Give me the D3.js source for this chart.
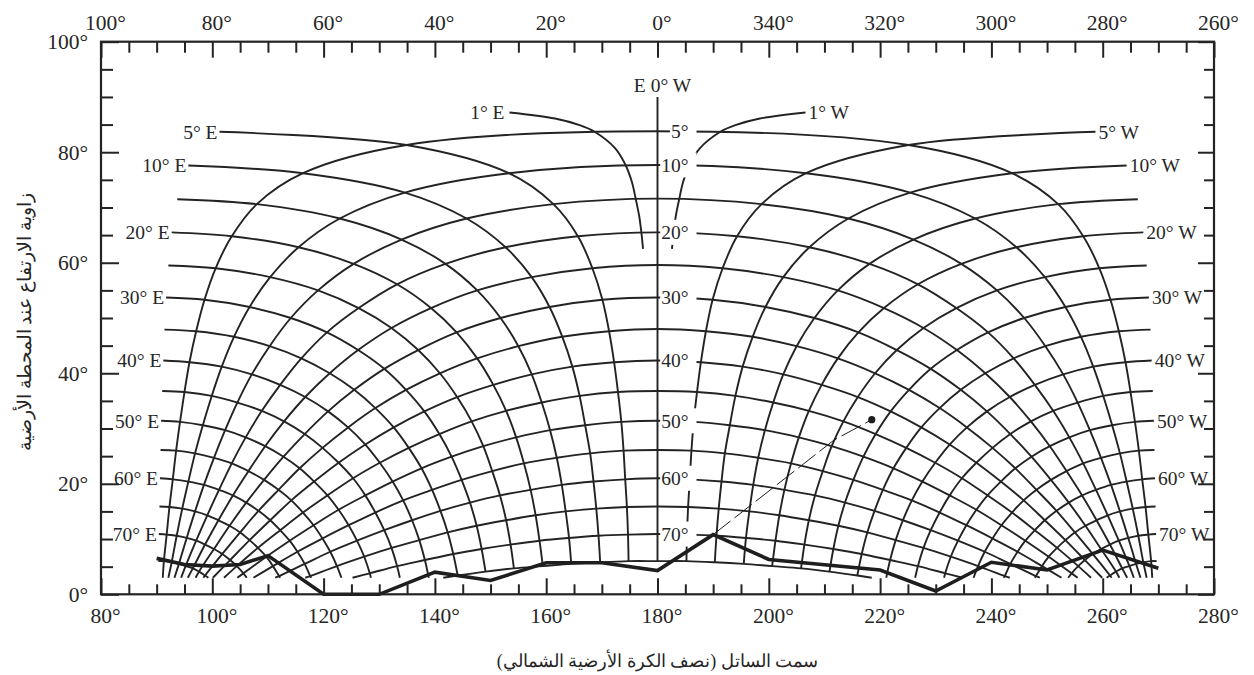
<!DOCTYPE html>
<html><head><meta charset="utf-8">
<script src="https://cdn.jsdelivr.net/npm/d3@7"></script>
<style>
html,body{margin:0;padding:0;background:#fff;}
svg text{font-family:"Liberation Serif","Times New Roman",serif;fill:#262626;}
</style></head><body>
<svg id="chart" width="1254" height="675"></svg>
<script>
// Earth-station latitudes (rows) and satellite longitude differences (columns) of the look-angle grid.
const stationLatitudes=[1,5,10,15,20,25,30,35,40,45,50,55,60,65,70,75];
const longitudeDiffs=[0,5,10,15,20,25,30,35,40,45,50,55,60,65,70,75];
const labeledLatitudes=[5,10,20,30,40,50,60,70];
const labeledLonDiffs=[5,10,20,30,40,50,60,70];

// Each row: [azimuth offset from south (deg), elevation (deg)] per longitude difference; null = below the 3° floor.
const lat01=[[0,88.8],[78.7,83.7],[84.3,77.6],[86.3,71.5],[87.3,65.5],[87.9,59.5],[88.3,53.7],[88.6,47.9],[88.8,42.3],[89.0,36.8],[89.2,31.4],[89.3,26.1],[89.4,21.0],[89.5,15.9],[89.6,10.9],[89.7,6.0]];
const lat05=[[0,83.8],[45.1,81.3],[63.7,76.2],[72.0,70.6],[76.5,64.8],[79.4,59.0],[81.4,53.3],[82.9,47.6],[84.1,42.0],[85.0,36.6],[85.8,31.2],[86.5,26.0],[87.1,20.8],[87.7,15.8],[88.2,10.8],[88.7,6.0]];
const lat10=[[0,77.7],[26.7,76.2],[45.4,72.7],[57.1,68.0],[64.5,62.8],[69.6,57.4],[73.3,52.0],[76.1,46.6],[78.3,41.2],[80.1,35.9],[81.7,30.6],[83.1,25.5],[84.3,20.4],[85.4,15.5],[86.4,10.6],[87.3,5.8]];
const lat15=[[0,71.6],[18.7,70.6],[34.3,68.0],[46.0,64.2],[54.6,59.8],[61.0,55.0],[65.9,50.0],[69.7,44.9],[72.9,39.8],[75.5,34.7],[77.7,29.7],[79.7,24.7],[81.5,19.8],[83.1,15.0],[84.6,10.2],[86.0,5.5]];
const lat20=[[0,65.5],[14.3,64.8],[27.3,62.8],[38.1,59.8],[46.8,56.1],[53.7,51.8],[59.4,47.4],[64.0,42.7],[67.8,37.9],[71.1,33.2],[74.0,28.4],[76.5,23.7],[78.8,18.9],[80.9,14.3],[82.9,9.7],[84.8,5.1]];
const lat25=[[0,59.6],[11.7,59.0],[22.6,57.4],[32.4,55.0],[40.7,51.8],[47.8,48.2],[53.8,44.2],[58.9,40.0],[63.3,35.7],[67.1,31.3],[70.5,26.8],[73.5,22.3],[76.3,17.9],[78.9,13.4],[81.3,9.0],[83.5,4.7]];
const lat30=[[0,53.7],[9.9,53.3],[19.4,52.0],[28.2,50.0],[36.1,47.4],[43.0,44.2],[49.1,40.8],[54.5,37.0],[59.2,33.1],[63.4,29.0],[67.2,24.9],[70.7,20.7],[73.9,16.6],[76.9,12.4],[79.7,8.2],[82.4,4.1]];
const lat35=[[0,48.0],[8.7,47.6],[17.1,46.6],[25.0,44.9],[32.4,42.7],[39.1,40.0],[45.2,37.0],[50.7,33.7],[55.6,30.2],[60.2,26.5],[64.3,22.8],[68.1,18.9],[71.7,15.1],[75.0,11.2],[78.2,7.3],[81.3,3.4]];
const lat40=[[0,42.3],[7.8,42.0],[15.3,41.2],[22.6,39.8],[29.5,37.9],[36.0,35.7],[41.9,33.1],[47.4,30.2],[52.5,27.1],[57.3,23.8],[61.7,20.4],[65.8,17.0],[69.6,13.4],[73.3,9.8],[76.8,6.2],null];
const lat45=[[0,36.8],[7.1,36.6],[14.0,35.9],[20.8,34.7],[27.2,33.2],[33.4,31.3],[39.2,29.0],[44.7,26.5],[49.9,23.8],[54.7,21.0],[59.3,17.9],[63.7,14.8],[67.8,11.6],[71.8,8.4],[75.6,5.1],null];
const lat50=[[0,31.4],[6.5,31.2],[13.0,30.6],[19.3,29.7],[25.4,28.4],[31.3,26.8],[37.0,24.9],[42.4,22.8],[47.6,20.4],[52.5,17.9],[57.3,15.3],[61.8,12.5],[66.1,9.7],[70.3,6.8],[74.4,3.8],null];
const lat55=[[0,26.1],[6.1,26.0],[12.1,25.5],[18.1,24.7],[24.0,23.7],[29.7,22.3],[35.2,20.7],[40.5,18.9],[45.7,17.0],[50.7,14.8],[55.5,12.5],[60.2,10.1],[64.7,7.7],[69.1,5.1],null,null];
const lat60=[[0,21.0],[5.8,20.8],[11.5,20.4],[17.2,19.8],[22.8,18.9],[28.3,17.9],[33.7,16.6],[39.0,15.1],[44.1,13.4],[49.1,11.6],[54.0,9.7],[58.8,7.7],[63.4,5.5],[68.0,3.3],null,null];
const lat65=[[0,15.9],[5.5,15.8],[11.0,15.5],[16.5,15.0],[21.9,14.3],[27.2,13.4],[32.5,12.4],[37.7,11.2],[42.8,9.8],[47.8,8.4],[52.7,6.8],[57.6,5.1],[62.4,3.3],null,null,null];
const lat70=[[0,10.9],[5.3,10.8],[10.6,10.6],[15.9,10.2],[21.2,9.7],[26.4,9.0],[31.6,8.2],[36.7,7.3],[41.8,6.2],[46.8,5.1],[51.7,3.8],null,null,null,null,null];
const lat75=[[0,6.0],[5.2,6.0],[10.3,5.8],[15.5,5.5],[20.6,5.1],[25.8,4.7],[30.9,4.1],[35.9,3.4],null,null,null,null,null,null,null,null];

// Where each latitude arc (5°..75°) and each longitude-difference curve (5°..75°) meets the 3° floor.
const latitudeArcEnds=[[88.9,3],[87.9,3],[86.8,3],[85.6,3],[84.4,3],[83.0,3],[81.6,3],[79.9,3],[77.9,3],[75.5,3],[72.6,3],[68.7,3],[63.3,3],[54.8,3],[38.5,3]];
const lonCurveEnds=[null,null,null,null,null,null,null,[41.1,3],[46.3,3],[51.5,3],[56.8,3],[62.2,3],[67.8,3],[73.8,3],[80.7,3]];
// 1° longitude difference, latitudes 2°..22.5°
const oneDegreeCurve=[[26.6,87.2],[18.4,86.1],[14.0,84.9],[11.3,83.7],[7.6,80.7],[5.7,77.6],[4.6,74.6],[3.9,71.5],[3.3,68.5],[2.9,65.5],[2.6,62.5]];
const zenithElevation=90;

// Local horizon profile and the marked satellite.
const horizonAz=[90,95,100,105,110,120,130,140,150,160,170,180,190,200,220,230,240,250,260,270];
const horizonEl=[6.5,5.4,5.1,5.4,7.0,0,0,4.0,2.5,5.7,5.7,4.3,10.8,6.3,4.4,0.6,5.8,4.4,8.0,4.7];
const pointerAz=[190,211.7,218.5];
const pointerEl=[10.8,27.9,31.6];

const bottomTicks=d3.range(80,281,5);
const topTicks=d3.range(-100,101,5);
const elevTicks=d3.range(0,101,5);

const gridRows=[lat01,lat05,lat10,lat15,lat20,lat25,lat30,lat35,lat40,lat45,lat50,lat55,lat60,lat65,lat70,lat75];

const svg=d3.select("#chart");
const x=d3.scaleLinear().domain([80,280]).range([101,1214]);
const xTop=d3.scaleLinear().domain([100,-100]).range([101,1214]);
const y=d3.scaleLinear().domain([0,100]).range([594.3,41.7]);
const ink="#232323";

const smooth=d3.line().x(d=>x(d[0])).y(d=>y(d[1])).curve(d3.curveCatmullRom.alpha(0.5));
const straight=d3.line().x(d=>x(d[0])).y(d=>y(d[1]));
const east=pts=>pts.map(p=>[180-p[0],p[1]]);
const west=pts=>pts.map(p=>[180+p[0],p[1]]);

const grid=svg.append("g").attr("fill","none").attr("stroke",ink).attr("stroke-width",1.9);

// latitude arcs: continuous from the east floor through due south to the west floor
stationLatitudes.forEach((lat,i)=>{
  if(i===0) return;
  const pts=gridRows[i].filter(Boolean).concat([latitudeArcEnds[i-1]]);
  const arc=east(pts).reverse().concat(west(pts).slice(1));
  grid.append("path").attr("d",smooth(arc));
});
// longitude-difference curves, east and west
longitudeDiffs.forEach((dl,j)=>{
  if(j===0) return;
  let pts=gridRows.map(r=>r[j]).filter(Boolean);
  if(lonCurveEnds[j-1]) pts=pts.concat([lonCurveEnds[j-1]]);
  grid.append("path").attr("d",smooth(east(pts)));
  grid.append("path").attr("d",smooth(west(pts)));
});
grid.append("path").attr("d",smooth(east(oneDegreeCurve)));
grid.append("path").attr("d",smooth(west(oneDegreeCurve)));
// due-south line (0° longitude difference)
const southLine=[[0,zenithElevation]].concat(gridRows.map(r=>r[0]));
grid.append("path").attr("d",straight(southLine.map(p=>[180,p[1]])));

// curve labels
const lbl=svg.append("g").attr("font-size",19.5);
labeledLonDiffs.forEach(dl=>{
  const p=lat01[longitudeDiffs.indexOf(dl)];
  lbl.append("text").attr("x",x(180-p[0])-2).attr("y",y(p[1])).attr("dy","0.35em").attr("text-anchor","end").text(dl+"° E");
  lbl.append("text").attr("x",x(180+p[0])+3).attr("y",y(p[1])).attr("dy","0.35em").attr("text-anchor","start").text(dl+"° W");
});
{const p=oneDegreeCurve[0];
 lbl.append("text").attr("x",x(180-p[0])-5).attr("y",y(p[1])).attr("dy","0.35em").attr("text-anchor","end").text("1° E");
 lbl.append("text").attr("x",x(180+p[0])+3).attr("y",y(p[1])).attr("dy","0.35em").attr("text-anchor","start").text("1° W");}
labeledLatitudes.forEach(lat=>{
  const el=gridRows[stationLatitudes.indexOf(lat)][0][1];
  const t=lbl.append("text").attr("x",x(180)+31).attr("y",y(el)).attr("dy","0.35em").attr("text-anchor","end").text(lat+"°");
  const bb=t.node().getBBox();
  lbl.insert("rect","text").attr("x",bb.x-1).attr("y",y(el)-12.5).attr("width",x(180)+39-bb.x+1).attr("height",25).attr("fill","#fff");
});
lbl.append("text").attr("x",x(180)+5).attr("y",y(zenithElevation)-4.5).attr("text-anchor","middle").text("E 0° W");

// horizon profile and pointer
svg.append("path").attr("d",straight(horizonAz.map((a,i)=>[a,horizonEl[i]]))).attr("fill","none").attr("stroke","#1e1e1e").attr("stroke-width",3.6).attr("stroke-linejoin","miter");
svg.append("path").attr("d",straight(pointerAz.map((a,i)=>[a,pointerEl[i]]))).attr("fill","none").attr("stroke","#1e1e1e").attr("stroke-width",1).attr("stroke-dasharray","22,5");
svg.append("circle").attr("cx",x(pointerAz[2])).attr("cy",y(pointerEl[2])).attr("r",3.6).attr("fill","#1e1e1e");

// axes, all ticks pointing into the frame
const ax=svg.append("g").attr("transform",`translate(0,${y(0)})`)
  .call(d3.axisBottom(x).tickValues(bottomTicks).tickSize(-10).tickPadding(13).tickFormat(v=>v%20===0?v+"°":""));
const at=svg.append("g").attr("transform",`translate(0,${y(100)})`)
  .call(d3.axisTop(xTop).tickValues(topTicks).tickSize(-11).tickPadding(12).tickFormat(v=>v%20===0?((v+360)%360)+"°":""));
const al=svg.append("g").attr("transform",`translate(${x(80)},0)`)
  .call(d3.axisLeft(y).tickValues(elevTicks).tickSize(-12).tickPadding(13).tickFormat(v=>v%20===0?v+"°":""));
const ar=svg.append("g").attr("transform",`translate(${x(280)},0)`)
  .call(d3.axisRight(y).tickValues(elevTicks).tickSize(-10).tickFormat(""));
[ax,at,al,ar].forEach(a=>{
  a.select(".domain").remove();
  a.selectAll("line").attr("stroke",ink).attr("stroke-width",2);
  a.selectAll("text").attr("font-size",21.5).attr("fill","#262626").style("font-family","Liberation Serif, Times New Roman, serif");
});
ax.selectAll(".tick").filter(v=>v%20===0).select("line").attr("y2",-16);
at.selectAll(".tick").filter(v=>v%20===0).select("line").attr("y2",16);
al.selectAll(".tick").filter(v=>v%20===0).select("line").attr("x2",18);
ar.selectAll(".tick").filter(v=>v%20===0).select("line").attr("x2",-16);
ax.selectAll("text").attr("dx",4);
at.selectAll("text").attr("dx",4);
svg.append("rect").attr("x",x(80)).attr("y",y(100)).attr("width",x(280)-x(80)).attr("height",y(0)-y(100))
  .attr("fill","none").attr("stroke",ink).attr("stroke-width",2.2);

// axis titles
svg.append("text").attr("x",x(180)).attr("y",667).attr("text-anchor","middle").attr("font-size",18).attr("direction","rtl")
  .text("سمت الساتل (نصف الكرة الأرضية الشمالي)");
svg.append("text").attr("transform",`translate(25,${y(50)+4}) rotate(-90)`).attr("text-anchor","middle").attr("dy","0.35em")
  .attr("font-size",18.5).attr("direction","rtl").text("زاوية الارتفاع عند المحطة الأرضية");
</script></body></html>
